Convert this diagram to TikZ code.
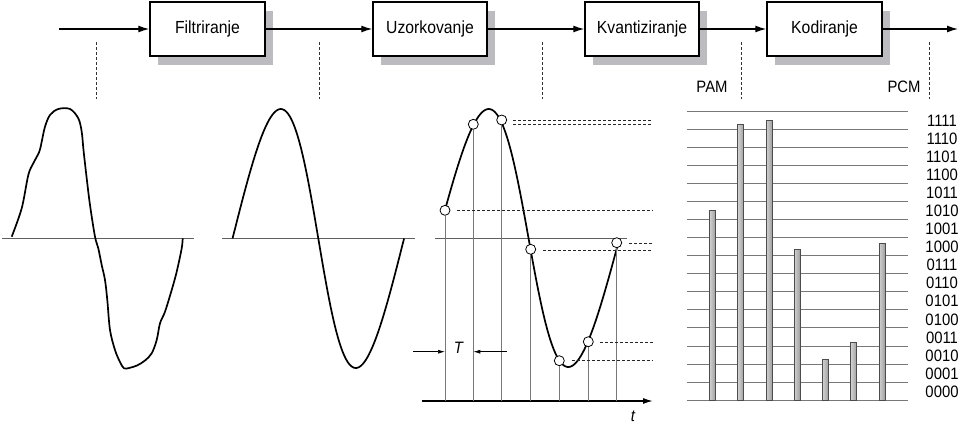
\documentclass[tikz,border=0pt]{standalone}
\usepackage{fontspec}
\setmainfont{Liberation Sans}[FakeStretch=0.9]
\usetikzlibrary{arrows.meta,shadows}
\definecolor{shadowgray}{RGB}{188,188,192}
\definecolor{axgray}{RGB}{95,95,95}
\definecolor{lngray}{RGB}{120,120,120}
\tikzset{
  blk/.style={draw=black, line width=1.5pt, fill=white, minimum width=115pt, minimum height=54pt, inner sep=0pt,
    font=\fontsize{17.5}{19}\selectfont,
    general shadow={shadow xshift=8pt, shadow yshift=-9pt, fill=shadowgray}},
  flow/.style={line width=1.3pt, -{Latex[length=11pt,width=7pt]}},
  sepline/.style={line width=0.9pt, dash pattern=on 3pt off 2pt, black!80},
  lvl/.style={line width=0.8pt, dash pattern=on 3pt off 2pt, black!85},
  axis/.style={line width=1pt, axgray},
  wave/.style={line width=1.7pt, black},
  smp/.style={circle, draw=black, fill=white, line width=0.8pt, minimum size=10pt, inner sep=0pt},
  stem/.style={line width=0.7pt, lngray},
  lab/.style={font=\fontsize{16.5}{18}\selectfont, inner sep=0pt},
  grid/.style={line width=1pt, lngray},
  bar/.style={draw=black!70, line width=0.5pt, left color=gray!35, middle color=white, right color=gray!75}
}
\begin{document}
\begin{tikzpicture}[x=1pt,y=-1pt]
\useasboundingbox (0,0) rectangle (960,426);

% processing chain
\node[blk] (f) at (207.5,29) {Filtriranje};
\node[blk, minimum width=114pt] (u) at (430,29) {Uzorkovanje};
\node[blk, minimum width=114pt] (q) at (642,29) {Kvantiziranje};
\node[blk] (k) at (824.5,29) {Kodiranje};
\coordinate (in) at (59,29);
\coordinate (out) at (958,29);
\draw[flow] (in) -- (f);
\draw[flow] (f) -- (u);
\draw[flow] (u) -- (q);
\draw[flow] (q) -- (k);
\draw[flow] (k) -- (out);

% separator dashed lines
\foreach \x in {96,319,542,741,929}
  \draw[sepline] (\x,42) -- (\x,99);
\node[lab] (pam) at (712,87) {PAM};
\node[lab] (pcm) at (904,87) {PCM};

% axes
\draw[axis] (2,238) -- (194,238);
\draw[axis] (222,238) -- (415,238);
\draw[axis] (435,238) -- (627,238);

% wave 1 (raw signal)
\draw[wave, line join=round] plot[smooth, tension=0.55] coordinates {
 (11.7,236.7) (21.7,208.3) (28.3,175) (33.3,163.3) (39.3,151.7) (41.7,141.7) (45,126.7) (50,115)
 (58.3,109) (70,109) (78.3,118.3) (81.7,131.7) (83.5,150) (86.7,178.3) (90,205) (95,236.7)
 (98.3,248.3) (101.7,265) (105,280) (107.3,300) (110,330) (115,350) (120,362) (124,368.3)
 (129,368) (137,365.5) (145,360.5) (151.7,353.3) (156.7,340) (160,323.3) (165,311.7)
 (171.7,290) (176.7,271.7) (181.7,248.3) (182.7,238.3)};

% wave 2 (filtered)
\draw[wave] plot[domain=0:6.2832, samples=120, variable=\t]
  ({318.3+27.3*(\t-pi)+5.4*sin(\t r)}, {238.5-129.5*sin(\t r)});

% wave 3 (sampled)
\draw[wave] plot[domain=0.2155:6.247, samples=120, variable=\t]
  ({528.5+29*(\t-pi)+5.8*sin(\t r)}, {238-129*sin(\t r)});

% time axis
\coordinate (t0) at (421.7,401);
\coordinate (t1) at (653,401);
\draw[line width=1.4pt, -{Latex[length=10pt,width=6pt]}] (t0) -- (t1);
\node[lab, font=\fontsize{16.5}{18}\selectfont\itshape] (tl) at (633,416.5) {t};

% samples
\foreach \n/\x/\y in {1/445/210.3, 2/473.3/124.3, 3/501.7/120, 4/530.7/249.3, 5/559.3/360.7, 6/588.3/341.7, 7/616.7/242.7}{
  \coordinate (b\n) at (\x,401);
  \node[smp] (s\n) at (\x,\y) {};
  \draw[stem] (b\n) -- (s\n);
}
% quantisation dashed levels
\draw[lvl] (513.3,120) -- (653,120);
\draw[lvl] (513.3,124.3) -- (653,124.3);
\draw[lvl] (457.3,210.3) -- (653,210.3);
\draw[lvl] (629.3,243.3) -- (653,243.3);
\draw[lvl] (543.3,250) -- (653,250);
\draw[lvl] (600,342.3) -- (653,342.3);
\draw[lvl] (571.7,360.7) -- (653,360.7);

% period T
\coordinate (ta) at (413.3,351.7);
\coordinate (tb) at (506.7,351.7);
\draw[line width=0.7pt, -{Latex[length=7pt,width=4pt]}] (ta) -- (s1 |- ta);
\draw[line width=0.7pt, -{Latex[length=7pt,width=4pt]}] (tb) -- (s2 |- tb);
\node[lab, font=\fontsize{16.5}{18}\selectfont\itshape] (T) at (458.3,347.5) {T};

% bar chart grid
\foreach \k in {0,...,16}
  \draw[grid] (687.3,{111+18.08*\k}) -- (908.3,{111+18.08*\k});
\foreach \c [count=\k from 0] in {1111,1110,1101,1100,1011,1010,1001,1000,0111,0110,0101,0100,0011,0010,0001,0000}
  \node[lab] (c\k) at (942,{120.5+18.08*\k}) {\c};

% bars
\foreach \x/\y in {712.3/210.3, 740.7/124.3, 769/120, 797/249.3, 825.3/359.3, 853.7/342, 882/243}
  \draw[bar] (\x-3,400.3) rectangle (\x+3,\y);
\end{tikzpicture}
\end{document}
